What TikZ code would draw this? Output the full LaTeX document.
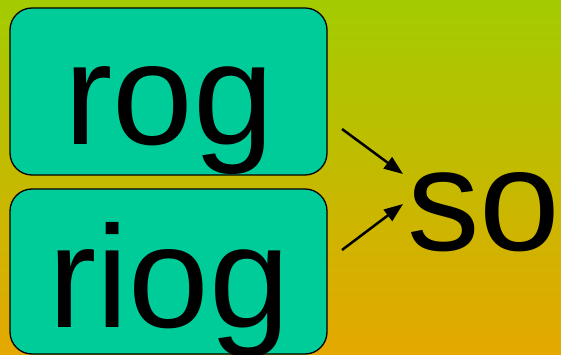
\documentclass[tikz,border=0pt]{standalone}
\usepackage{fontspec}
\setmainfont{Liberation Sans}
\usetikzlibrary{arrows.meta}
\definecolor{bgtop}{HTML}{A3CC00}
\definecolor{bgbot}{HTML}{E5A800}
\definecolor{boxfill}{HTML}{00CC99}
\begin{document}
\begin{tikzpicture}[x=1pt,y=-1pt,
  boxstyle/.style={draw=black,line width=1.3pt,fill=boxfill,rounded corners=22pt,rectangle,inner sep=0pt},
  bigtext/.style={inner sep=0pt,anchor=base,font=\fontsize{145}{150}\selectfont},
  arrowstyle/.style={line width=2.5pt,-{Triangle[length=19pt,width=14pt]}}]
\useasboundingbox (0,0) rectangle (561,355);
\shade[top color=bgtop,bottom color=bgbot] (0,0) rectangle (561,355);
\node[boxstyle,minimum width=317pt,minimum height=167pt] (box1) at (168.5,91.5) {};
\node[boxstyle,minimum width=317pt,minimum height=165pt] (box2) at (168.5,271.5) {};
\node[bigtext] (t1) at (169,145) {rog};
\node[bigtext] (t2) at (169,327) {riog};
\node[bigtext] (so) at (484,250) {so};
\coordinate (a1s) at (342,129);
\coordinate (a1e) at (403,174);
\coordinate (a2s) at (342,250);
\coordinate (a2e) at (403,204);
\draw[arrowstyle] (a1s) -- (a1e);
\draw[arrowstyle] (a2s) -- (a2e);
\end{tikzpicture}
\end{document}
